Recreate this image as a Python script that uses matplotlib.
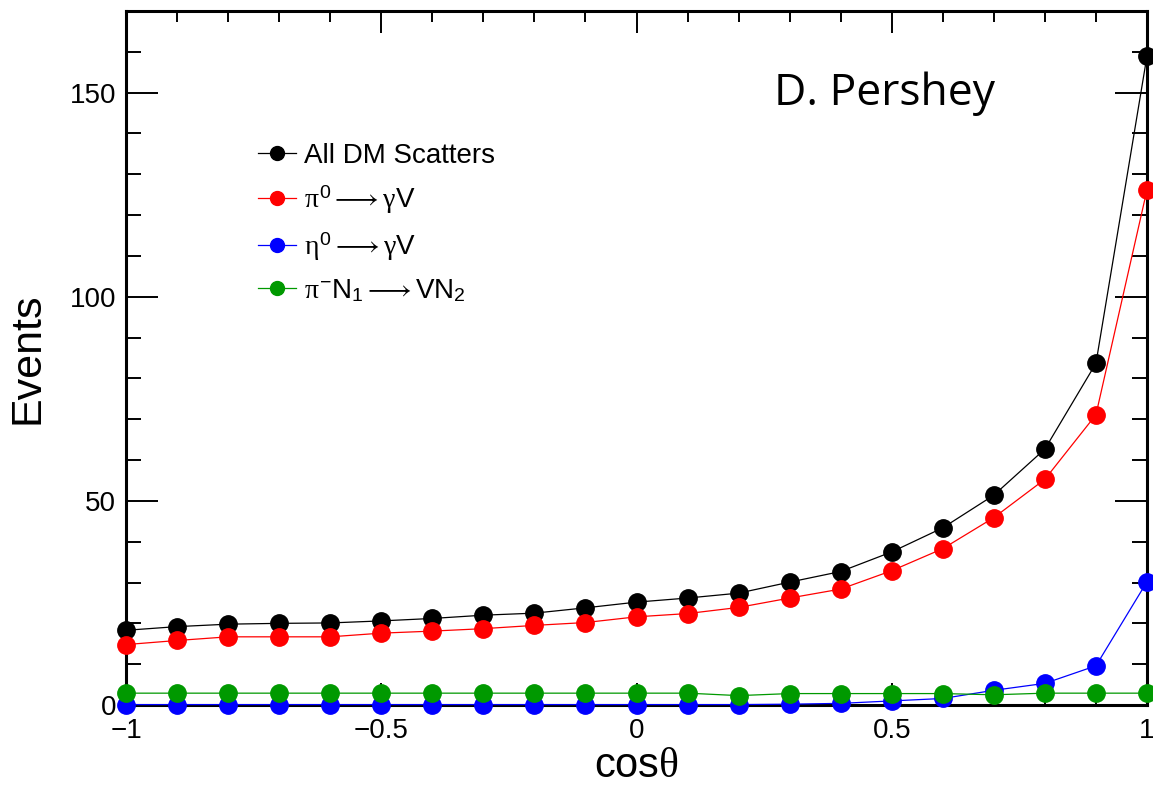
import matplotlib
matplotlib.use("Agg")
import matplotlib.pyplot as plt
from matplotlib.ticker import MultipleLocator

plt.rcParams['font.family'] = ['Liberation Sans', 'DejaVu Sans']
plt.rcParams['mathtext.fontset'] = 'custom'
plt.rcParams['mathtext.rm'] = 'Liberation Sans'
plt.rcParams['mathtext.it'] = 'Liberation Serif'
plt.rcParams['mathtext.bf'] = 'Liberation Sans:bold'

# cos(theta) bin centres
cos_theta = [-1.0, -0.9, -0.8, -0.7, -0.6, -0.5, -0.4, -0.3, -0.2, -0.1, 0.0,
             0.1, 0.2, 0.3, 0.4, 0.5, 0.6, 0.7, 0.8, 0.9, 1.0]

all_dm = [18.3, 19.2, 19.8, 20.0, 20.1, 20.6, 21.2, 22.0, 22.5, 23.8, 25.2,
          26.2, 27.4, 30.1, 32.7, 37.5, 43.4, 51.4, 62.7, 83.7, 159.0]
pi0 = [14.8, 15.8, 16.7, 16.7, 16.7, 17.6, 18.1, 18.7, 19.5, 20.2, 21.6,
       22.4, 23.9, 26.2, 28.4, 32.9, 38.3, 45.9, 55.3, 71.1, 126.2]
eta0 = [0.1, 0.1, 0.1, 0.1, 0.1, 0.1, 0.1, 0.1, 0.1, 0.1, 0.1,
        0.1, 0.1, 0.2, 0.4, 1.0, 1.6, 3.6, 5.3, 9.6, 30.2]
pim = [2.9, 2.9, 2.9, 2.9, 2.9, 2.9, 2.9, 2.9, 2.9, 2.9, 2.9,
       2.9, 2.3, 2.8, 2.8, 2.8, 2.8, 2.5, 2.9, 2.9, 2.9]

labels = ["All DM Scatters",
          r"$\pi^{0}\longrightarrow\gamma\mathrm{V}$",
          r"$\eta^{0}\longrightarrow\gamma\mathrm{V}$",
          r"$\pi^{-}\mathrm{N}_{1}\longrightarrow\mathrm{VN}_{2}$"]
colors = ["black", "#ff0000", "#0000ff", "#009900"]
series = [all_dm, pi0, eta0, pim]

fig = plt.figure(figsize=(11.53, 7.87), dpi=100)
ax = fig.add_axes([126/1153, 1-705/787, (1147-126)/1153, (705-11)/787])

handles = []
for vals, col, lab in zip(series, colors, labels):
    h, = ax.plot(cos_theta, vals, color=col, lw=0.9, marker='o', ms=12.5,
                 mec=col, mfc=col, clip_on=False, zorder=3, label=lab)
    handles.append(h)

ax.set_xlim(-1, 1)
ax.set_ylim(0, 170)
ax.xaxis.set_minor_locator(MultipleLocator(0.1))
ax.yaxis.set_minor_locator(MultipleLocator(10))
ax.set_xticks([-1, -0.5, 0, 0.5, 1])
ax.set_xticklabels(["\u22121", "\u22120.5", "0", "0.5", "1"])
ax.set_yticks([0, 50, 100, 150])

for s in ax.spines.values():
    s.set_linewidth(2.2)

ax.tick_params(axis='both', which='both', direction='in', top=True, right=True,
               labelsize=20, width=1.4)
ax.tick_params(axis='x', which='major', length=16, pad=9)
ax.tick_params(axis='x', which='minor', length=8)
ax.tick_params(axis='y', which='major', length=23, pad=7)
ax.tick_params(axis='y', which='minor', length=11)

ax.set_xlabel(r"cos$\theta$", fontsize=30, labelpad=2)
ax.set_ylabel("Events", fontsize=31)
ax.yaxis.set_label_coords(-0.077, 0.5)

ax.text(774/1153, 1-105/787, "D. Pershey", transform=fig.transFigure,
        fontsize=32, family=['Open Sans', 'DejaVu Sans'], ha='left', va='baseline')

ax.legend(handles=handles, loc='upper left', frameon=False,
          bbox_to_anchor=(258/1153, 1-143/787), bbox_transform=fig.transFigure,
          borderaxespad=0, borderpad=0, fontsize=20, markerscale=0.8,
          handlelength=1.35, handletextpad=0.3, labelspacing=0.52)

fig.savefig("out.png", dpi=100)
